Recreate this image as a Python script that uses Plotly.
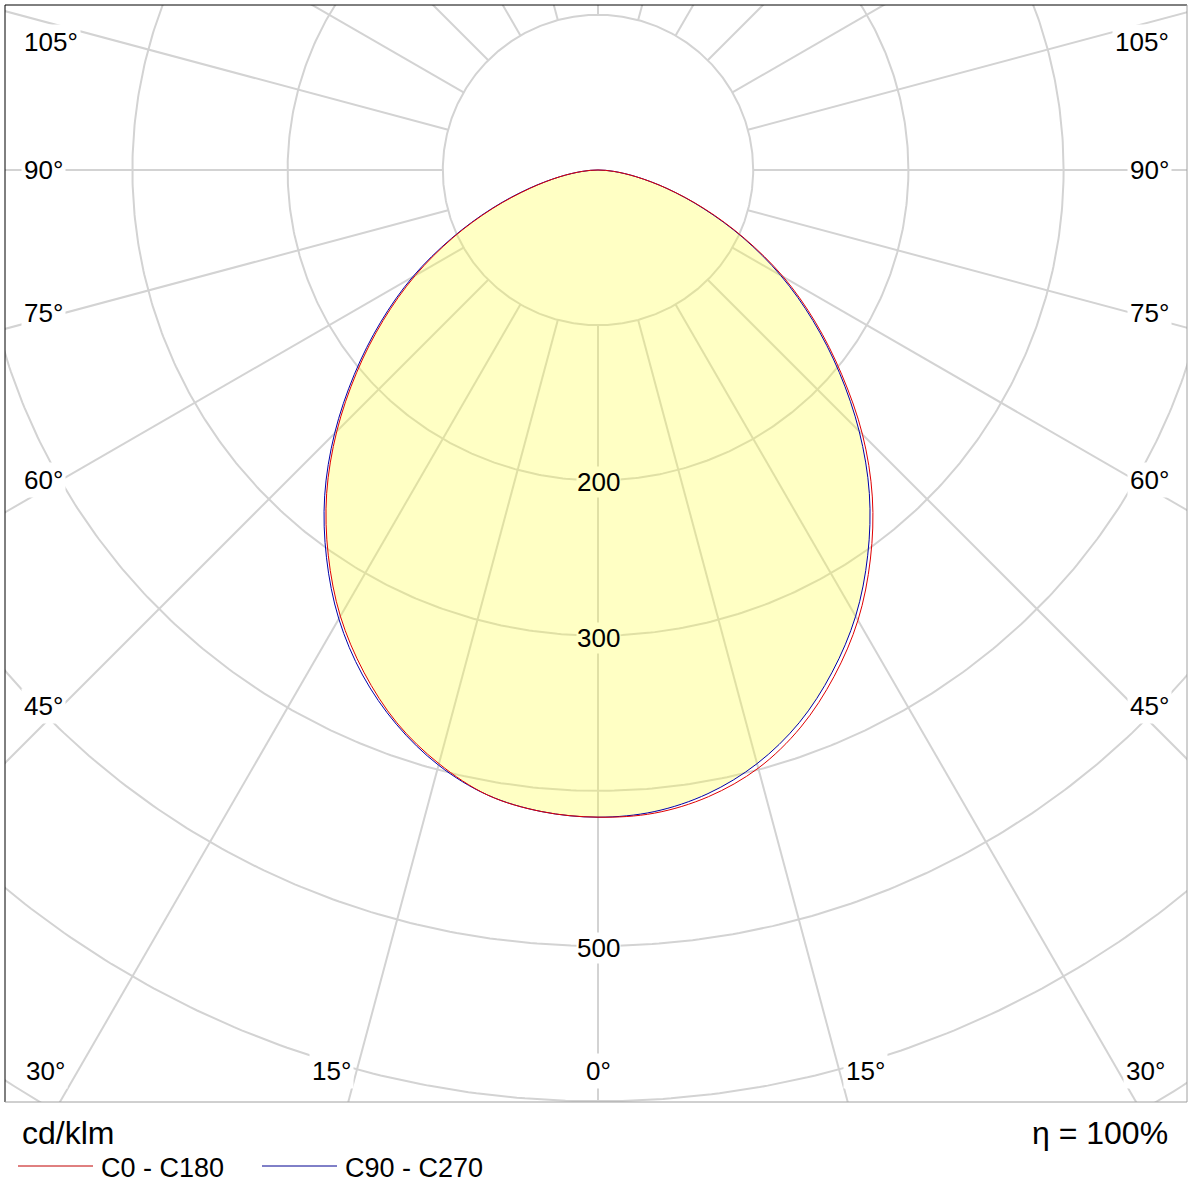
import numpy as np
import plotly.graph_objects as go

# ---------------- data (cd/klm) ----------------
gamma = [0, 5, 10, 15, 20, 25, 30, 35, 40, 45, 50, 55, 60, 65, 70, 75, 80, 85, 90]
c0 = [417, 416, 410, 399, 382, 360, 335, 306, 275, 241, 205, 171, 138, 104, 73, 46, 25, 10, 0]
c90 = [417, 415, 408, 396, 379, 357, 332, 303, 272, 238, 203, 169, 136, 103, 72, 46, 25, 10, 0]
c180 = [417, 415, 409, 396, 379, 357, 332, 303, 272, 238, 203, 169, 136, 103, 72, 45, 25, 10, 0]
c270 = [417, 415, 409, 397, 380, 359, 334, 305, 274, 240, 205, 171, 138, 104, 73, 46, 25, 10, 0]

ring_values = [100, 200, 300, 400, 500, 600, 700]
ring_label_values = [200, 300, 500]
ring_label_texts = ["200", "300", "500"]
spoke_angles = list(range(0, 360, 15))
side_label_texts = ["105°", "90°", "75°", "60°", "45°"]
bottom_label_texts = ["30°", "15°", "0°", "15°", "30°"]
unit_text = "cd/klm"
eta_text = "η = 100%"
series_names = ["C0 - C180", "C90 - C270"]

# ---------------- layout geometry (pixels) ----------------
W, H = 1196, 1183
L, R, T, B = 5, 1187, 5, 1102
CX, CY = 598, 170
S = 1.552  # px per cd/klm

FONT = "Liberation Sans, Arial, sans-serif"
GRID = "#D3D3D3"
RED = "#E00000"
BLUE = "#0000A8"


def dx(p):
    return (p - CX) / S


def dy(p):
    return (CY - p) / S


def px_paper(p):
    return (p - L) / (R - L)


def py_paper(p):
    return (B - p) / (B - T)


def half(values, side):
    g = np.radians(gamma)
    r = np.asarray(values, dtype=float)
    return side * r * np.sin(g), -r * np.cos(g)


def closed_curve(left_vals, right_vals):
    xl, yl = half(left_vals, -1)
    xr, yr = half(right_vals, 1)
    return np.concatenate([xl[::-1], xr[1:]]), np.concatenate([yl[::-1], yr[1:]])


fig = go.Figure()

# grid rings
t = np.linspace(0, 2 * np.pi, 721)
rx, ry = [], []
for rv in ring_values:
    rx += list(rv * np.cos(t)) + [None]
    ry += list(rv * np.sin(t)) + [None]
fig.add_trace(go.Scatter(x=rx, y=ry, mode="lines", line=dict(color=GRID, width=2),
                         hoverinfo="skip", showlegend=False))

# grid spokes (start at the first ring)
sx, sy = [], []
for a in spoke_angles:
    ar = np.radians(a)
    sx += [ring_values[0] * np.sin(ar), 900 * np.sin(ar), None]
    sy += [-ring_values[0] * np.cos(ar), -900 * np.cos(ar), None]
fig.add_trace(go.Scatter(x=sx, y=sy, mode="lines", line=dict(color=GRID, width=2),
                         hoverinfo="skip", showlegend=False))

# fill
fx, fy = closed_curve(np.minimum(c180, c270), np.minimum(c0, c90))
fig.add_trace(go.Scatter(x=fx, y=fy, mode="lines", fill="toself",
                         fillcolor="rgba(255,255,60,0.30)", line=dict(width=0, shape="spline"),
                         hoverinfo="skip", showlegend=False))

# curves
bx, by = closed_curve(c270, c90)
fig.add_trace(go.Scatter(x=bx, y=by, mode="lines", name=series_names[1],
                         line=dict(color=BLUE, width=1, shape="spline"), showlegend=False))
ax_, ay_ = closed_curve(c180, c0)
fig.add_trace(go.Scatter(x=ax_, y=ay_, mode="lines", name=series_names[0],
                         line=dict(color=RED, width=1, shape="spline"), showlegend=False))

annotations = []
lab_font = dict(family=FONT, size=26, color="#000000")

# ring labels
for v, txt in zip(ring_label_values, ring_label_texts):
    inside = v < 400
    annotations.append(dict(x=0, y=-v, xref="x", yref="y", text=txt, showarrow=False,
                            font=lab_font, xanchor="center", yanchor="middle", yshift=-2,
                            bgcolor="#FFFFC4" if inside else "#FFFFFF", borderpad=0))

# side angle labels
side_y = [42, 170, 313, 480, 706]
for txt, yy in zip(side_label_texts, side_y):
    annotations.append(dict(x=dx(21), y=dy(yy), xref="x", yref="y", text=txt, showarrow=False,
                            font=lab_font, xanchor="left", yanchor="middle",
                            bgcolor="#FFFFFF", borderpad=2))
    annotations.append(dict(x=dx(1172), y=dy(yy), xref="x", yref="y", text=txt, showarrow=False,
                            font=lab_font, xanchor="right", yanchor="middle",
                            bgcolor="#FFFFFF", borderpad=2))

# bottom angle labels
bottom_pos = [(23, "left"), (331, "center"), (598, "center"), (865, "center"), (1168, "right")]
for txt, (xx, anc) in zip(bottom_label_texts, bottom_pos):
    annotations.append(dict(x=dx(xx), y=dy(1071), xref="x", yref="y", text=txt, showarrow=False,
                            font=lab_font, xanchor=anc, yanchor="middle",
                            bgcolor="#FFFFFF", borderpad=2))

# footer texts
annotations.append(dict(x=px_paper(20), y=py_paper(1133), xref="paper", yref="paper",
                        text=unit_text, showarrow=False, xanchor="left", yanchor="middle",
                        font=dict(family=FONT, size=32, color="#000000")))
annotations.append(dict(x=px_paper(1170), y=py_paper(1133), xref="paper", yref="paper",
                        text=eta_text, showarrow=False, xanchor="right", yanchor="middle",
                        font=dict(family=FONT, size=32, color="#000000")))
leg_font = dict(family=FONT, size=27, color="#000000")
annotations.append(dict(x=px_paper(99), y=py_paper(1168), xref="paper", yref="paper",
                        text=series_names[0], showarrow=False, xanchor="left", yanchor="middle",
                        font=leg_font))
annotations.append(dict(x=px_paper(343), y=py_paper(1168), xref="paper", yref="paper",
                        text=series_names[1], showarrow=False, xanchor="left", yanchor="middle",
                        font=leg_font))

shapes = [
    # legend samples
    dict(type="line", xref="paper", yref="paper", x0=px_paper(18), x1=px_paper(93),
         y0=py_paper(1166), y1=py_paper(1166), line=dict(color="#C00000", width=1)),
    dict(type="line", xref="paper", yref="paper", x0=px_paper(262), x1=px_paper(337),
         y0=py_paper(1166), y1=py_paper(1166), line=dict(color="#000090", width=1)),
    # frame
    dict(type="line", xref="paper", yref="paper", x0=0, x1=1, y0=1, y1=1,
         line=dict(color="#000000", width=1)),
    dict(type="line", xref="paper", yref="paper", x0=0, x1=0, y0=0, y1=1,
         line=dict(color="#000000", width=1)),
    dict(type="line", xref="paper", yref="paper", x0=1, x1=1, y0=0, y1=1,
         line=dict(color="#A0A0A0", width=1)),
    dict(type="line", xref="paper", yref="paper", x0=0, x1=1, y0=0, y1=0,
         line=dict(color="#A0A0A0", width=1)),
]

fig.update_layout(
    width=W, height=H,
    margin=dict(l=L, r=W - R, t=T, b=H - B, pad=0),
    paper_bgcolor="#FFFFFF", plot_bgcolor="#FFFFFF",
    xaxis=dict(range=[dx(L), dx(R)], visible=False, fixedrange=True),
    yaxis=dict(range=[dy(B), dy(T)], visible=False, fixedrange=True),
    annotations=annotations, shapes=shapes, showlegend=False,
)

fig.write_html("out.html")
